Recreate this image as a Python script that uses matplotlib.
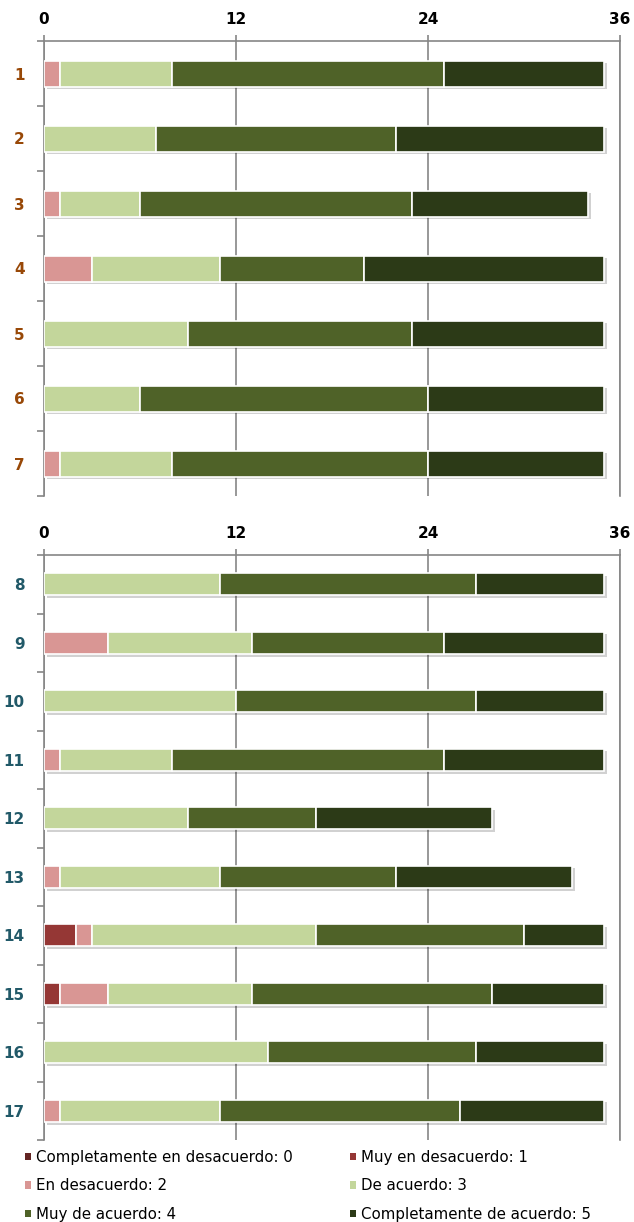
import numpy as np
import matplotlib
matplotlib.use("Agg")
import matplotlib.pyplot as plt
import matplotlib.patheffects as pe
from matplotlib.patches import Patch

plt.rcParams['font.family'] = ['DejaVu Sans']

categories = ["Completamente en desacuerdo: 0", "Muy en desacuerdo: 1", "En desacuerdo: 2",
              "De acuerdo: 3", "Muy de acuerdo: 4", "Completamente de acuerdo: 5"]
colors = ["#632523", "#953735", "#d99694", "#c3d69b", "#4f6228", "#2c3a17"]

# top chart: items 1-7
top_items = ["1", "2", "3", "4", "5", "6", "7"]
top_vals = [
    [0, 0, 0, 0, 0, 0, 0],        # 0
    [0, 0, 0, 0, 0, 0, 0],        # 1
    [1, 0, 1, 3, 0, 0, 1],        # 2
    [7, 7, 5, 8, 9, 6, 7],        # 3
    [17, 15, 17, 9, 14, 18, 16],  # 4
    [10, 13, 11, 15, 12, 11, 11], # 5
]

# bottom chart: items 8-17
bot_items = ["8", "9", "10", "11", "12", "13", "14", "15", "16", "17"]
bot_vals = [
    [0, 0, 0, 0, 0, 0, 0, 0, 0, 0],
    [0, 0, 0, 0, 0, 0, 2, 1, 0, 0],
    [0, 4, 0, 1, 0, 1, 1, 3, 0, 1],
    [11, 9, 12, 7, 9, 10, 14, 9, 14, 10],
    [16, 12, 15, 17, 8, 11, 13, 15, 13, 15],
    [8, 10, 8, 10, 11, 11, 5, 7, 8, 9],
]

W, H = 634, 1222
fig = plt.figure(figsize=(W / 100, H / 100), dpi=100)

def draw(ax, items, vals, label_color, height):
    n = len(items)
    y = np.arange(n)
    left = np.zeros(n)
    shadow = [pe.SimplePatchShadow(offset=(2, -2), alpha=0.18, shadow_rgbFace="black"), pe.Normal()]
    for v, c in zip(vals, colors):
        v = np.array(v, dtype=float)
        bars = ax.barh(y, v, left=left, height=height, color=c, edgecolor="white",
                       linewidth=1.2, zorder=3)
        for b in bars:
            if b.get_width() > 0:
                b.set_path_effects(shadow)
        left += v
    ax.set_xlim(0, 36)
    ax.set_ylim(n - 0.5, -0.5)
    ax.set_xticks([0, 12, 24, 36])
    ax.xaxis.tick_top()
    ax.tick_params(axis="x", which="major", direction="out", length=4, width=1.2,
                   color="#868686", pad=6, labelsize=11)
    for t in ax.get_xticklabels():
        t.set_fontweight("bold")
    ax.set_yticks(y)
    ax.set_yticklabels(items, fontsize=11, fontweight="bold", color=label_color)
    ax.tick_params(axis="y", which="major", length=0, pad=14)
    ax.set_yticks(np.arange(n + 1) - 0.5, minor=True)
    ax.tick_params(axis="y", which="minor", direction="out", length=5, width=1.2,
                   color="#868686")
    ax.grid(axis="x", color="#868686", linewidth=1.2, zorder=0)
    ax.set_axisbelow(True)
    for s in ["top", "left", "right"]:
        ax.spines[s].set_color("#868686")
        ax.spines[s].set_linewidth(1.2)
    ax.spines["bottom"].set_visible(False)

ax1 = fig.add_axes([44 / W, 1 - 496 / H, 576 / W, 455 / H])
draw(ax1, top_items, top_vals, "#984807", 0.4)

ax2 = fig.add_axes([44 / W, 1 - 1140 / H, 576 / W, 585 / H])
draw(ax2, bot_items, bot_vals, "#215968", 0.38)

handles = [Patch(facecolor=c, edgecolor="none") for c in colors]
order = [0, 2, 4, 1, 3, 5]
fig.legend([handles[i] for i in order], [categories[i] for i in order],
           loc="upper left", bbox_to_anchor=(25 / W, 1 - 1150 / H), ncol=2,
           frameon=False, fontsize=10.8, handlelength=0.4, handleheight=0.4,
           handletextpad=0.33, columnspacing=3.85, labelspacing=0.89,
           borderaxespad=0, borderpad=0)

fig.savefig("out.png", dpi=100)
